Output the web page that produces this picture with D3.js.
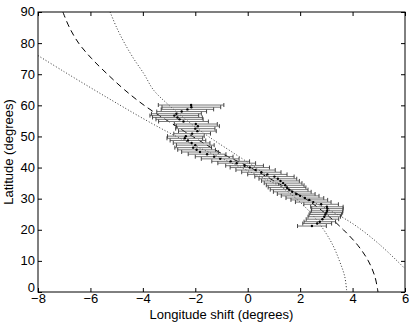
<!DOCTYPE html>
<html>
<head>
<meta charset="utf-8">
<script src="https://cdn.jsdelivr.net/npm/d3@7"></script>
<style>
  body { margin: 0; background: #fff; }
  text { font-family: "Liberation Sans", Arial, sans-serif; }
</style>
</head>
<body>
<svg id="chart" width="415" height="329"></svg>
<script>
// measured points with horizontal error bars
var errLat = [60.1, 59.4, 58.7, 58.0, 57.3, 56.7, 56.1, 55.5, 54.8, 54.0,
  53.3, 52.5, 51.7, 50.9, 50.1, 49.4, 48.7, 47.9, 47.2, 46.4,
  45.7, 45.0, 44.3, 43.5, 42.8, 42.0, 41.4, 40.6, 40.0, 39.2,
  38.5, 37.8, 37.1, 36.4, 35.7, 35.0, 34.3, 33.6, 32.9, 32.2,
  31.5, 30.9, 30.2, 29.6, 28.9, 28.2, 27.4, 26.8, 26.1, 25.5,
  24.9, 24.2, 23.4, 22.6, 22.0, 21.2]
var errLon = [-2.16, -2.15, -2.3, -2.52, -2.72, -2.8, -2.68, -2.6, -2.45, -1.98,
  -1.9, -2.0, -1.92, -2.12, -2.36, -2.4, -2.28, -2.14, -2.0, -2.08,
  -1.95, -1.82, -1.55, -1.28, -1.05, -0.65, -0.42, -0.12, 0.08, 0.3,
  0.52, 0.75, 1.02, 1.15, 1.25, 1.35, 1.43, 1.5, 1.58, 1.7,
  1.85, 2.0, 2.18, 2.35, 2.5, 2.8, 3.02, 3.04, 3.03, 3.0,
  2.96, 2.92, 2.85, 2.75, 2.65, 2.45]
var errHalf = [1.25, 1.12, 1.0, 0.95, 0.95, 0.93, 0.95, 0.9, 0.95, 0.82,
  0.82, 0.75, 0.72, 0.7, 0.7, 0.68, 0.68, 0.7, 0.72, 0.7,
  0.72, 0.7, 0.72, 0.72, 0.72, 0.72, 0.72, 0.72, 0.75, 0.75,
  0.75, 0.75, 0.75, 0.72, 0.72, 0.72, 0.72, 0.72, 0.72, 0.72,
  0.72, 0.72, 0.72, 0.7, 0.68, 0.66, 0.62, 0.6, 0.6, 0.62,
  0.62, 0.62, 0.62, 0.6, 0.55, 0.55]

// model curves (longitude shift at given latitude)
var curveLat = [90, 85, 80, 75, 70, 65, 60, 55, 50, 45, 40, 35, 30, 25, 20, 15, 10, 5, 0]
var dashedLon = [-7.05, -6.8, -6.45, -5.95, -5.35, -4.7, -3.95, -3.05, -2.1, -1.1,
  0.1, 1.15, 2.2, 3.0, 3.65, 4.2, 4.6, 4.85, 4.97]
var innerLon = [-5.25, -5.0, -4.7, -4.35, -3.95, -3.6, -3.0, -2.3, -1.5, -0.6,
  0.3, 1.1, 1.85, 2.45, 2.9, 3.25, 3.5, 3.7, 3.78]
// flatter dotted curve, read as latitude at given longitude
var outerLonStops = [-8, -7, -6, -5, -4, -3, -2, -1, 0, 1, 2, 3, 4, 5, 6]
var outerLat = [76, 70.8, 65.7, 60.7, 55.8, 51.2, 47, 43, 39, 35, 31, 26.8, 22, 15.5, 7.5]

var xTicks = [-8, -6, -4, -2, 0, 2, 4, 6]
var yTicks = [0, 10, 20, 30, 40, 50, 60, 70, 80, 90]

var margin = { left: 38, right: 10, top: 12, bottom: 37 }
var width = 415 - margin.left - margin.right
var height = 329 - margin.top - margin.bottom

var svg = d3.select('#chart')
var g = svg.append('g').attr('transform', 'translate(' + margin.left + ',' + margin.top + ')')

var x = d3.scaleLinear().domain([-8, 6]).range([0, width])
var y = d3.scaleLinear().domain([0, 90]).range([height, 0])

g.append('clipPath').attr('id', 'plot-clip')
  .append('rect').attr('width', width).attr('height', height)

var plot = g.append('g').attr('clip-path', 'url(#plot-clip)')

var lonLine = function (lons) {
  return d3.line()
    .x(function (d, i) { return x(lons[i]) })
    .y(function (d) { return y(d) })
    .curve(d3.curveCatmullRom)(curveLat)
}

plot.append('path')
  .attr('d', lonLine(dashedLon))
  .attr('fill', 'none').attr('stroke', '#000').attr('stroke-width', 1)
  .attr('stroke-dasharray', '6,4')

plot.append('path')
  .attr('d', lonLine(innerLon))
  .attr('fill', 'none').attr('stroke', '#000').attr('stroke-width', 0.8)
  .attr('stroke-dasharray', '1,2')

plot.append('path')
  .attr('d', d3.line()
    .x(function (d) { return x(d) })
    .y(function (d, i) { return y(outerLat[i]) })
    .curve(d3.curveCatmullRom)(outerLonStops))
  .attr('fill', 'none').attr('stroke', '#000').attr('stroke-width', 0.8)
  .attr('stroke-dasharray', '1,2')

// error bars
var rows = errLat.map(function (lat, i) {
  return { lat: lat, lon: errLon[i], half: errHalf[i] }
})
var bars = plot.append('g').attr('class', 'errorbars')
  .selectAll('g').data(rows).enter().append('g')

bars.append('line')
  .attr('x1', function (d) { return x(d.lon - d.half) })
  .attr('x2', function (d) { return x(d.lon + d.half) })
  .attr('y1', function (d) { return y(d.lat) })
  .attr('y2', function (d) { return y(d.lat) })
  .attr('stroke', '#666').attr('stroke-width', 0.9)

bars.selectAll('.cap')
  .data(function (d) { return [d.lon - d.half, d.lon + d.half].map(function (v) { return { v: v, lat: d.lat } }) })
  .enter().append('line')
  .attr('class', 'cap')
  .attr('x1', function (d) { return x(d.v) })
  .attr('x2', function (d) { return x(d.v) })
  .attr('y1', function (d) { return y(d.lat) - 2 })
  .attr('y2', function (d) { return y(d.lat) + 2 })
  .attr('stroke', '#333').attr('stroke-width', 0.9)

bars.append('circle')
  .attr('cx', function (d) { return x(d.lon) })
  .attr('cy', function (d) { return y(d.lat) })
  .attr('r', 1.2)
  .attr('fill', '#000')

// frame and ticks (inward, all four sides)
g.append('rect').attr('width', width).attr('height', height)
  .attr('fill', 'none').attr('stroke', '#000').attr('stroke-width', 1)

var fmt = function (d) { return d < 0 ? '\u2212' + Math.abs(d) : String(d) }

var xAxis = g.append('g').attr('transform', 'translate(0,' + height + ')')
  .call(d3.axisBottom(x).tickValues(xTicks).tickFormat(fmt).tickSizeInner(-4).tickSizeOuter(0).tickPadding(2))
var xTop = g.append('g')
  .call(d3.axisTop(x).tickValues(xTicks).tickFormat('').tickSizeInner(-4).tickSizeOuter(0))
var yAxis = g.append('g')
  .call(d3.axisLeft(y).tickValues(yTicks).tickSizeInner(-4).tickSizeOuter(0).tickPadding(3))
var yRight = g.append('g').attr('transform', 'translate(' + width + ',0)')
  .call(d3.axisRight(y).tickValues(yTicks).tickFormat('').tickSizeInner(-4).tickSizeOuter(0))

;[xAxis, xTop, yAxis, yRight].forEach(function (a) {
  a.select('.domain').remove()
  a.selectAll('text').attr('font-size', 13).attr('fill', '#000')
    .style('font-family', '"Liberation Sans", Arial, sans-serif')
})
yAxis.selectAll('text').attr('dy', '0.3em')
// the bottom y label sits just above the first x label, as in the original
yAxis.selectAll('text').filter(function (d) { return d === 0 }).attr('dy', '-0.05em')

svg.append('text')
  .attr('x', margin.left + width / 2).attr('y', 319)
  .attr('text-anchor', 'middle').attr('font-size', 13)
  .text('Longitude shift (degrees)')

svg.append('text')
  .attr('transform', 'translate(13,' + (margin.top + height / 2) + ') rotate(-90)')
  .attr('text-anchor', 'middle').attr('font-size', 13)
  .text('Latitude (degrees)')
</script>
</body>
</html>
